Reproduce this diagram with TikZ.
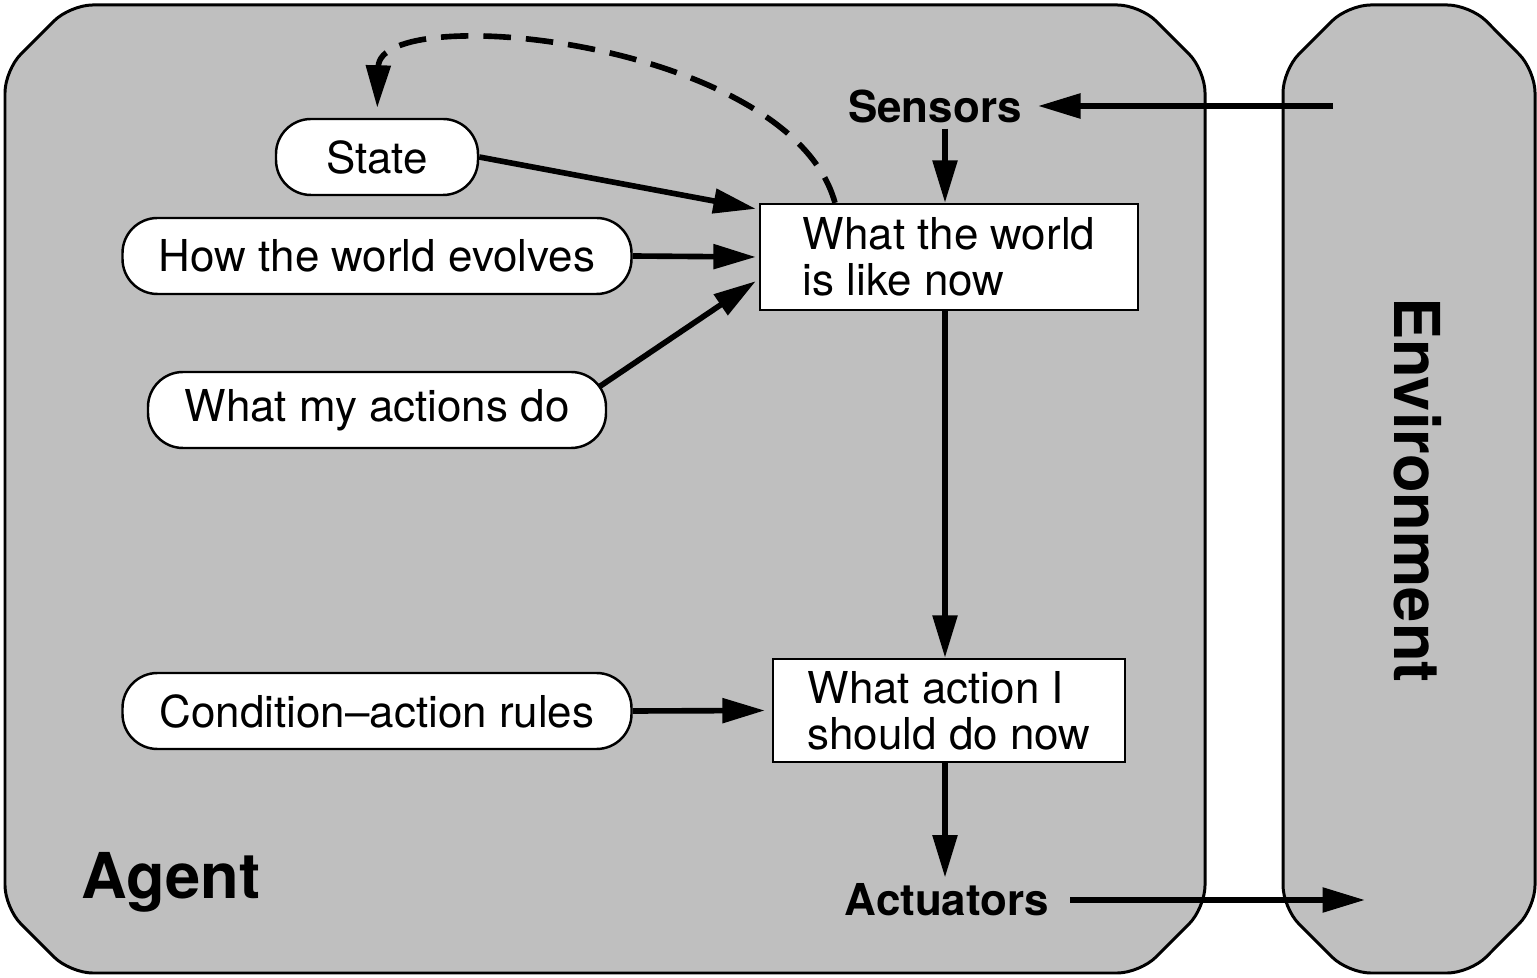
\documentclass[tikz,border=0pt]{standalone}
\usepackage{fontspec}
\setsansfont{TeX Gyre Heros}
\usepackage{xcolor}
\usetikzlibrary{arrows.meta,positioning}
\definecolor{Panel}{HTML}{BFBFBF}
\definecolor{Ink}{HTML}{000000}
\tikzset{panel/.style={draw=Ink,fill=Panel,line width=1.7pt,rounded corners=0.45cm},knowledge/.style={rectangle,rounded corners=0.7cm,draw=Ink,fill=white,line width=1.4pt,minimum height=1.52cm,inner sep=0pt,text=Ink},process/.style={rectangle,draw=Ink,fill=white,line width=1.3pt,align=left,inner sep=0pt,text=Ink},port/.style={text=Ink,font=\sffamily\bfseries\fontsize{25}{26}\selectfont},title/.style={text=Ink,font=\sffamily\bfseries\fontsize{36}{38}\selectfont},signal/.style={draw=Ink,line width=3.2pt,-{Triangle[length=0.85cm,width=0.48cm]}},memory/.style={signal,dash pattern=on 0.55cm off 0.3cm}}
\begin{document}
\begin{tikzpicture}[font=\sffamily\fontsize{25}{26}\selectfont,x=1cm,y=1cm]
\useasboundingbox (0,0) rectangle (30.74,19.54);
\filldraw[panel] (12,19.44) -- (22.8,19.44) -- (24.1,18.14) -- (24.1,1.38) -- (22.8,0.08) -- (1.4,0.08) -- (0.1,1.38) -- (0.1,18.14) -- (1.4,19.44) -- cycle;
\filldraw[panel] (28.18,19.44) -- (29.4,19.44) -- (30.7,18.14) -- (30.7,1.38) -- (29.4,0.08) -- (26.96,0.08) -- (25.66,1.38) -- (25.66,18.14) -- (26.96,19.44) -- cycle;
\node[title] (Ag) at (3.42,1.9) {Agent};\node[title,rotate=-90] (En) at (28.36,9.74) {Environment};
\node[port] (Se) at (18.7,17.42) {Sensors};\node[port] (Ac) at (18.94,1.54) {Actuators};
\node[knowledge,minimum width=4.04cm] (K0) at (7.54,16.4) {State};\node[knowledge,minimum width=10.18cm] (K1) at (7.54,14.42) {How the world evolves};\node[knowledge,minimum width=9.16cm] (K2) at (7.54,11.34) {What my actions do};\node[knowledge,minimum width=10.18cm] (K3) at (7.54,5.32) {Condition--action rules};
\node[process,minimum width=7.56cm,minimum height=2.12cm] (W) at (18.98,14.4) {What the world\\is like now};\node[process,minimum width=7.04cm,minimum height=2.06cm] (A) at (18.98,5.33) {What action I\\should do now};
\coordinate (EnOut) at (26.66,17.42);\coordinate (EnIn) at (27.3,1.54);
\draw[signal,shorten >=0.2cm] (EnOut) -- (Se.east);\draw[signal] ([xshift=-0.08cm]Se.south -| W.north) -- ([xshift=-0.08cm]W.north);\draw[signal] (K0.east) -- ([xshift=-0.06cm,yshift=-0.12cm]W.north west);\draw[signal] (K1.east) -- ([xshift=-0.06cm]W.west);\draw[signal] ([xshift=-0.16cm,yshift=-0.32cm]K2.north east) -- ([xshift=-0.06cm,yshift=0.6cm]W.south west);
\draw[signal] ([xshift=-0.08cm]W.south) -- ([xshift=-0.08cm]A.north);\draw[signal] (K3.east) -- ([xshift=-0.14cm]A.west);\draw[signal] ([xshift=-0.08cm]A.south) -- ([xshift=-0.08cm]A.south |- Ac.north);\draw[signal,shorten <=0.3cm] (Ac.east) -- (EnIn);
\draw[memory,shorten >=0.2cm] ([xshift=-2.28cm]W.north) .. controls (15.8,18.74) and (7.6,19.54) .. (K0.north);
\end{tikzpicture}
\end{document}
